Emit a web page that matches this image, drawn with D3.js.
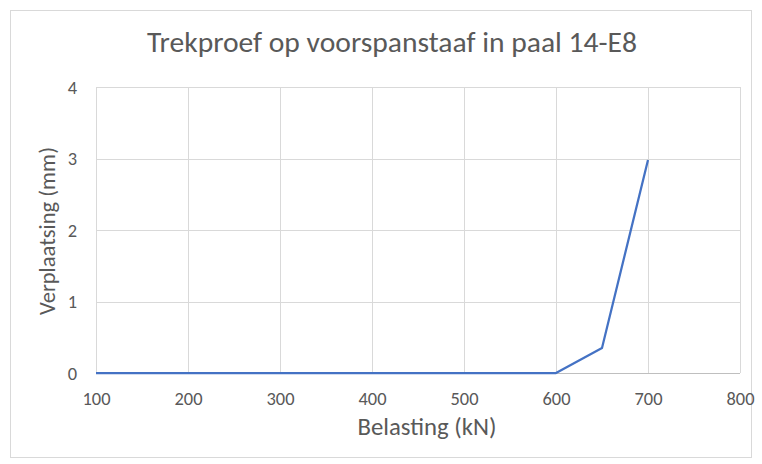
<!DOCTYPE html>
<html><head><meta charset="utf-8">
<script src="https://cdn.jsdelivr.net/npm/d3@7"></script>
<style>body{margin:0;background:#fff}svg{display:block}text{font-family:Carlito,"Open Sans",sans-serif}</style>
</head><body><svg id="c" width="762" height="464"></svg>
<script>
const loads = [100, 150, 200, 250, 300, 350, 400, 450, 500, 550, 600, 650, 700];
const displacement = [0, 0, 0, 0, 0, 0, 0, 0, 0, 0, 0, 0.35, 2.98];
const xTicks = [100, 200, 300, 400, 500, 600, 700, 800];
const yTicks = [0, 1, 2, 3, 4];
const title = "Trekproef op voorspanstaaf in paal 14-E8";
const xTitle = "Belasting (kN)";
const yTitle = "Verplaatsing (mm)";

const svg = d3.select("#c");
svg.append("rect").attr("x", 10.5).attr("y", 10.5).attr("width", 741).attr("height", 447)
  .attr("fill", "#fff").attr("stroke", "#d9d9d9");

// fit a font size so that text reaches a target width
function fit(sel, target) {
  const node = sel.node();
  const w = node.getComputedTextLength();
  const fs = parseFloat(sel.attr("font-size"));
  sel.attr("font-size", (fs * target / w).toFixed(2));
}

const m = {l: 96, r: 740, t: 87, b: 373};
const x = d3.scaleLinear().domain([100, 800]).range([m.l, m.r]);
const y = d3.scaleLinear().domain([0, 4]).range([m.b, m.t]);

const g = svg.append("g");
g.selectAll(".vg").data(xTicks).join("line")
  .attr("x1", d => Math.round(x(d)) + 0.5).attr("x2", d => Math.round(x(d)) + 0.5)
  .attr("y1", m.t).attr("y2", m.b).attr("stroke", "#d9d9d9");
g.selectAll(".hg").data(yTicks).join("line")
  .attr("x1", m.l).attr("x2", m.r)
  .attr("y1", d => Math.round(y(d)) + 0.5).attr("y2", d => Math.round(y(d)) + 0.5)
  .attr("stroke", d => d === 0 ? "#bfbfbf" : "#d9d9d9");

// tick label size fitted to "100" ≈ 28px
const probe = svg.append("text").attr("font-size", 16).text("100");
fit(probe, 28);
const tickFs = probe.attr("font-size");
probe.remove();

const xa = svg.append("g").attr("transform", `translate(0,${m.b})`)
  .call(d3.axisBottom(x).tickValues(xTicks).tickFormat(d3.format("d")).tickSize(0).tickPadding(0));
xa.select(".domain").remove();
xa.selectAll("text").attr("fill", "#595959").attr("font-size", tickFs)
  .attr("dy", null).attr("y", 32);

const ya = svg.append("g").attr("transform", `translate(${m.l},0)`)
  .call(d3.axisLeft(y).tickValues(yTicks).tickFormat(d3.format("d")).tickSize(0).tickPadding(0));
ya.select(".domain").remove();
ya.selectAll("text").attr("fill", "#595959").attr("font-size", tickFs)
  .attr("x", -19).attr("dy", "0.35em");

svg.append("path").datum(loads.map((d, i) => [d, displacement[i]]))
  .attr("fill", "none").attr("stroke", "#4472c4").attr("stroke-width", 2.25)
  .attr("stroke-linejoin", "round")
  .attr("d", d3.line().x(d => x(d[0])).y(d => y(d[1])));

const t = svg.append("text").attr("x", 392).attr("y", 52).attr("text-anchor", "middle")
  .attr("fill", "#595959").attr("font-size", 28).text(title);
fit(t, 490);
const xt = svg.append("text").attr("x", 427).attr("y", 435).attr("text-anchor", "middle")
  .attr("fill", "#595959").attr("font-size", 18).text(xTitle);
fit(xt, 139);
const yt = svg.append("text").attr("transform", "translate(55,231) rotate(-90)").attr("text-anchor", "middle")
  .attr("fill", "#595959").attr("font-size", 18).text(yTitle);
fit(yt, 168);
</script></body></html>
